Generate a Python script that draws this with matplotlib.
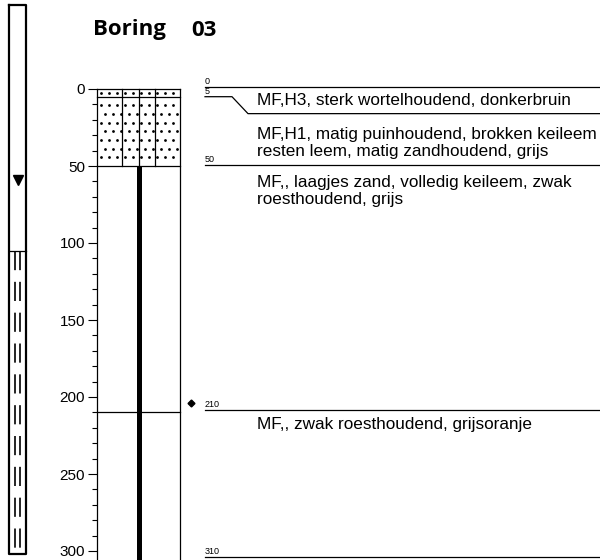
import matplotlib
matplotlib.use('Agg')
import matplotlib.pyplot as plt
import numpy as np

W, H = 600, 560
PX = 1.54      # pixels per cm of depth
Y0 = 89        # pixel row where depth 0 sits

# boring data (depth in cm)
boundaries = [0, 5, 50, 210, 310]
boundary_text_depth = [-1.5, 16, 49.5, 208.5, 304]
descriptions = [
    ["MF,H3, sterk wortelhoudend, donkerbruin"],
    ["MF,H1, matig puinhoudend, brokken keileem", "resten leem, matig zandhoudend, grijs"],
    ["MF,, laagjes zand, volledig keileem, zwak", "roesthoudend, grijs"],
    ["MF,, zwak roesthoudend, grijsoranje"],
]
desc_depth = [7.5, 29.5, 61, 218]
sand_top = [0, 5]
sand_bot = [5, 50]
sand_rows = [1, 7]
water_level = 59
filter_top = 105
tube_top, tube_bot = -54.5, 302
sample_depth = 204
depth_ticks = [0, 50, 100, 150, 200, 250, 300]

dmin = -Y0 / PX
dmax = (H - Y0) / PX

fig = plt.figure(figsize=(W / 100, H / 100), dpi=100)
ax = fig.add_axes([0, 0, 1, 1])
ax.set_xlim(0, W)
ax.set_ylim(dmax, dmin)
ax.axis('off')

FONT = 'Liberation Sans'

# title
ax.text(93, (30 - Y0) / PX, 'Boring', fontsize=16, fontweight='bold', family='Open Sans', va='center', ha='left')
ax.text(191, (30 - Y0) / PX, '03', fontsize=16, fontweight='bold', family='Open Sans', va='center', ha='left')

# depth axis on the column
cax = fig.add_axes([97 / W, 0, 83 / W, (H - Y0) / H])
cax.patch.set_alpha(0)
cax.set_xlim(0, 1)
cax.set_ylim(dmax, 0)
cax.set_xticks([])
cax.set_yticks(depth_ticks)
cax.set_yticks(np.arange(0, dmax, 10), minor=True)
cax.tick_params(axis='y', which='major', length=6.5, width=0.8, pad=2, labelsize=11)
cax.tick_params(axis='y', which='minor', length=3.5, width=0.8)
for lab in cax.get_yticklabels():
    lab.set_family(FONT)
cax.spines['bottom'].set_visible(False)
for s in ['left', 'right', 'top']:
    cax.spines[s].set_linewidth(0.9)

# column contents
col_l, col_r = 97, 180
for t, b, n in zip(sand_top, sand_bot, sand_rows):
    step = (b - t) / (n + 1)
    for k in range(n):
        d = t + step * (k + 1) if n > 1 else (t + b) / 2
        off = 4 if k % 2 else 0
        xs = np.arange(101 + off, col_r - 2, 8)
        ax.plot(xs, np.full_like(xs, d, dtype=float), 'o', color='black', ms=2.0, mew=0)
    ax.plot([col_l, col_r], [b, b], color='black', lw=0.9)
for xv in [122, 139, 155]:
    ax.plot([xv, xv], [0, sand_bot[-1]], color='black', lw=0.9)
ax.plot([139, 139], [sand_bot[-1], dmax], color='black', lw=3.6, solid_capstyle='butt')
ax.plot([col_l, col_r], [boundaries[3], boundaries[3]], color='black', lw=0.9)

# sample marker
ax.plot(191, sample_depth, 'D', color='black', ms=3.5)

# description side
for b, t in zip(boundaries, boundary_text_depth):
    left = min(b, t)
    ax.plot([205, 232, 248, W], [left, left, t, t], color='black', lw=0.9)
    ax.text(205, left - 1 / PX, str(b), fontsize=6.5, family=FONT, va='bottom', ha='left')
LINE = 17 / PX
for lines, d in zip(descriptions, desc_depth):
    for k, s in enumerate(lines):
        ax.text(257, d + k * LINE, s, fontsize=12.3, family=FONT, va='center', ha='left')

# monitoring tube on the far left
ax.plot([8.5, 25.5, 25.5, 8.5, 8.5], [tube_top, tube_top, tube_bot, tube_bot, tube_top], color='black', lw=1.6)
ax.plot([8.5, 25.5], [filter_top, filter_top], color='black', lw=0.9)
for xv in [15, 20]:
    ax.plot([xv, xv], [filter_top, tube_bot], color='black', lw=1.2, linestyle=(0, (11.5, 7)))
ax.plot(18, water_level, 'v', color='black', ms=6.5)

fig.savefig('out.png', dpi=100, facecolor='white')
